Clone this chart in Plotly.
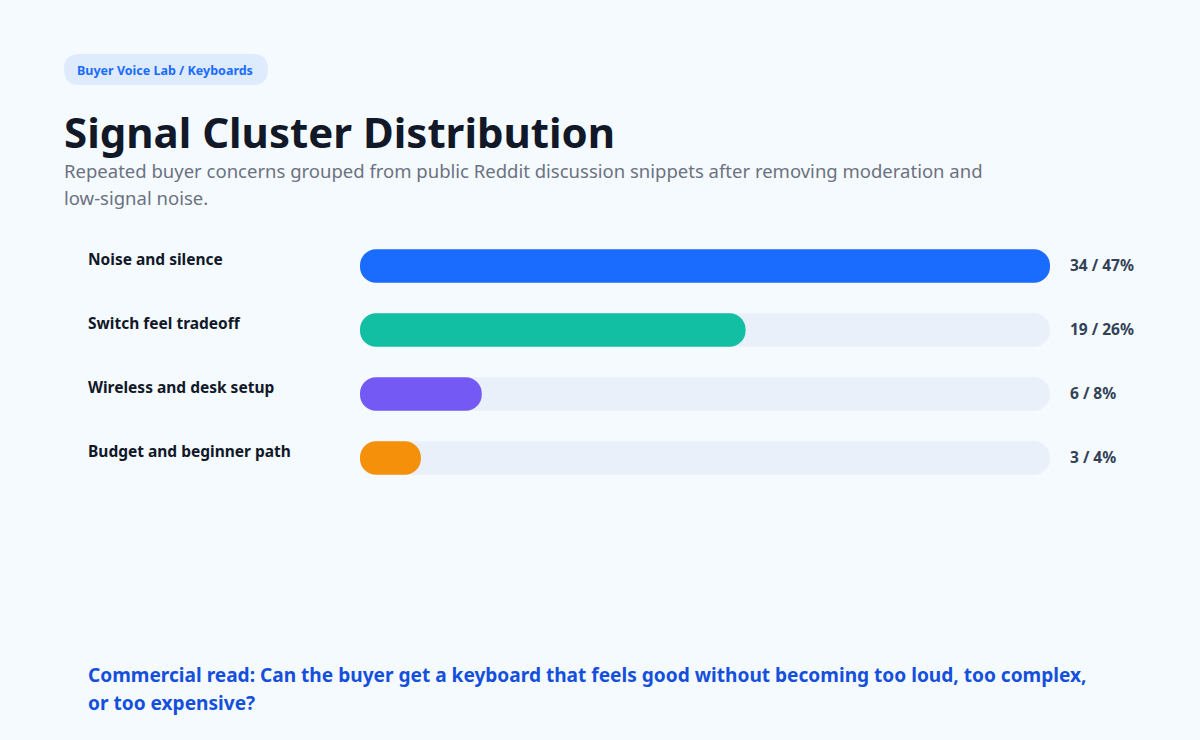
import plotly.graph_objects as go

categories = ["Noise and silence", "Switch feel tradeoff", "Wireless and desk setup", "Budget and beginner path"]
counts = [34, 19, 6, 3]
shares = [47, 26, 8, 4]
bar_colors = ["#1A6BFF", "#12BFA2", "#7559F5", "#F5900A"]

badge_text = "Buyer Voice Lab / Keyboards"
title_text = "Signal Cluster Distribution"
subtitle_lines = [
    "Repeated buyer concerns grouped from public Reddit discussion snippets after removing moderation and",
    "low-signal noise.",
]
footer_lines = [
    "Commercial read: Can the buyer get a keyboard that feels good without becoming too loud, too complex,",
    "or too expensive?",
]

W, H = 1200, 740
FONT = "Noto Sans"


def px(x):
    return x / W


def py(y):
    return 1 - y / H


track_max = max(counts)
track_vals = [track_max] * len(categories)


def add_pill(vals, color):
    # bar drawn from its end back to zero
    fig.add_trace(go.Bar(
        y=categories, x=[-v for v in vals], base=vals, orientation="h",
        marker=dict(color=color, line=dict(width=0)), width=0.52,
        hoverinfo="skip", showlegend=False,
    ))


fig = go.Figure()
add_pill(track_vals, "#EAF0FA")
add_pill(counts, bar_colors)

annotations = []
for cat, c, s in zip(categories, counts, shares):
    annotations.append(dict(
        x=px(86), xref="paper", y=cat, yref="y", yshift=7,
        text=f"<b>{cat}</b>", showarrow=False, xanchor="left", yanchor="middle",
        font=dict(family=FONT, size=15.5, color="#111827"),
    ))
    annotations.append(dict(
        x=px(1068), xref="paper", y=cat, yref="y", yshift=1.5,
        text=f"<b>{c} / {s}%</b>", showarrow=False, xanchor="left", yanchor="middle",
        font=dict(family=FONT, size=15.5, color="#334155"),
    ))

annotations.append(dict(
    x=px(75), xref="paper", y=py(70), yref="paper",
    text=f"<b>{badge_text}</b>", showarrow=False, xanchor="left", yanchor="middle",
    font=dict(family=FONT, size=12.5, color="#1A6BFF"),
))
annotations.append(dict(
    x=px(62), xref="paper", y=py(132), yref="paper",
    text=f"<b>{title_text}</b>", showarrow=False, xanchor="left", yanchor="middle",
    font=dict(family=FONT, size=42, color="#111827"),
))
for i, line in enumerate(subtitle_lines):
    annotations.append(dict(
        x=px(62), xref="paper", y=py(171 + 27 * i), yref="paper",
        text=line, showarrow=False, xanchor="left", yanchor="middle",
        font=dict(family=FONT, size=18.5, color="#6B7280"),
    ))
for i, line in enumerate(footer_lines):
    annotations.append(dict(
        x=px(86), xref="paper", y=py(675 + 28 * i), yref="paper",
        text=f"<b>{line}</b>", showarrow=False, xanchor="left", yanchor="middle",
        font=dict(family=FONT, size=19.1, color="#1550DC"),
    ))

x0, x1, y0, y1 = 64, 268, 54, 85
r = (y1 - y0) / 2


def P(x, y):
    return f"{px(x)},{py(y)}"


badge_path = (
    f"M{P(x0 + r, y0)} L{P(x1 - r, y0)} Q{P(x1, y0)} {P(x1, y0 + r)} "
    f"Q{P(x1, y1)} {P(x1 - r, y1)} L{P(x0 + r, y1)} Q{P(x0, y1)} {P(x0, y0 + r)} "
    f"Q{P(x0, y0)} {P(x0 + r, y0)} Z"
)

fig.update_layout(
    width=W, height=H,
    margin=dict(l=0, r=0, t=0, b=0),
    paper_bgcolor="#F5FAFF", plot_bgcolor="rgba(0,0,0,0)",
    barmode="overlay", barcornerradius=17,
    xaxis=dict(domain=[px(360), px(1050)], range=[0, track_max], visible=False, fixedrange=True),
    yaxis=dict(domain=[py(490), py(234)], range=[len(categories) - 0.5, -0.5],
               type="category", categoryorder="array", categoryarray=categories,
               visible=False, fixedrange=True),
    shapes=[dict(type="path", path=badge_path, xref="paper", yref="paper",
                 fillcolor="#DDEBFD", line=dict(width=0), layer="below")],
    annotations=annotations,
    showlegend=False,
)

fig.write_html("out.html", config={"displayModeBar": False})
